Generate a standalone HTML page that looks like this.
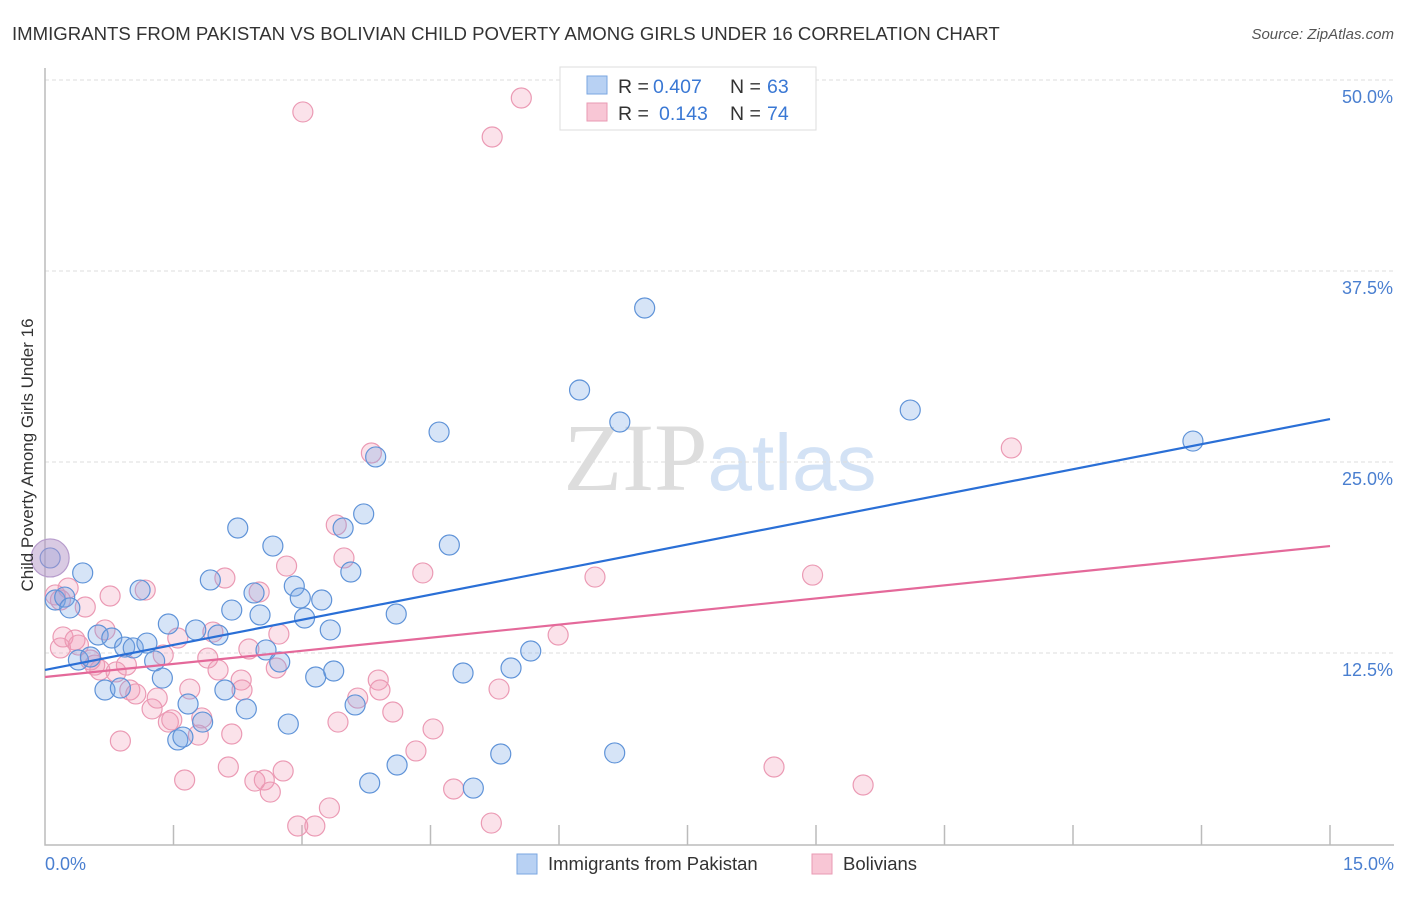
<!DOCTYPE html>
<html><head><meta charset="utf-8"><style>
body{margin:0;background:#fff;font-family:"Liberation Sans",sans-serif;}
svg text{font-family:"Liberation Sans",sans-serif;}
</style></head><body>
<svg id="chart" width="1406" height="892" xmlns="http://www.w3.org/2000/svg">
<text x="12" y="40" font-size="18.6" fill="#333">IMMIGRANTS FROM PAKISTAN VS BOLIVIAN CHILD POVERTY AMONG GIRLS UNDER 16 CORRELATION CHART</text>
<text x="1394" y="39" font-size="15" fill="#555" text-anchor="end" font-style="italic">Source: ZipAtlas.com</text>
<text x="720" y="490" font-size="96" text-anchor="middle"><tspan fill="#ddd" font-family="Liberation Serif">ZIP</tspan><tspan fill="#d3e2f5" font-size="80">atlas</tspan></text>
<g id="grid"></g>
<g id="axes"></g>
<g id="pts"></g>
<g id="lines"></g>
<text transform="translate(33,455) rotate(-90)" font-size="17" fill="#333" text-anchor="middle">Child Poverty Among Girls Under 16</text>
<text x="45" y="870" font-size="18" fill="#4a7fd0">0.0%</text>
<text x="1394" y="870" font-size="18" fill="#4a7fd0" text-anchor="end">15.0%</text>
<g>
<rect x="560" y="67" width="256" height="63" fill="#fff" stroke="#ddd"/>
<rect x="587" y="76" width="20" height="18" fill="#b8d1f3" stroke="#7aa6e0"/>
<rect x="587" y="103" width="20" height="18" fill="#f8c6d5" stroke="#e99ab3"/>
<text x="618" y="93" font-size="19.5" fill="#333">R =</text>
<text x="653" y="93" font-size="19.5" fill="#3a78d4">0.407</text>
<text x="730" y="93" font-size="19.5" fill="#333">N =</text>
<text x="767" y="93" font-size="19.5" fill="#3a78d4">63</text>
<text x="618" y="120" font-size="19.5" fill="#333">R =</text>
<text x="659" y="120" font-size="19.5" fill="#3a78d4">0.143</text>
<text x="730" y="120" font-size="19.5" fill="#333">N =</text>
<text x="767" y="120" font-size="19.5" fill="#3a78d4">74</text>
</g>
<g>
<rect x="517" y="854" width="20" height="20" fill="#b8d1f3" stroke="#7aa6e0"/>
<text x="548" y="870" font-size="18.5" fill="#333">Immigrants from Pakistan</text>
<rect x="812" y="854" width="20" height="20" fill="#f8c6d5" stroke="#e99ab3"/>
<text x="843" y="870" font-size="18.5" fill="#333">Bolivians</text>
</g>
</svg>
<script>
const yTicks=[12.5,25,37.5,50];
const yTickLabels=["12.5%","25.0%","37.5%","50.0%"];
const xTicks=[0,1.5,3,4.5,6,7.5,9,10.5,12,13.5,15];
const blueX=[.06,.12,.23,.29,.44,.39,.53,.62,.70,.78,.88,.93,1.03,1.11,1.19,1.28,1.37,1.44,1.55,1.61,1.67,1.76,1.84,1.93,2.02,2.10,2.18,2.25,2.35,2.44,2.51,2.58,2.66,2.74,2.84,2.91,2.98,3.03,3.16,3.23,3.33,3.37,3.48,3.57,3.62,3.72,3.79,3.86,4.10,4.11,4.60,4.72,4.88,5.00,5.32,5.44,5.67,6.24,6.65,6.71,7.00,10.10,13.40];
const blueY=[18.72,15.97,16.16,15.45,17.74,12.04,12.24,13.68,10.08,13.48,10.21,12.89,12.83,16.62,13.15,11.98,10.86,14.40,6.81,7.00,9.16,14.01,7.98,17.28,13.68,10.08,15.31,20.68,8.84,16.43,14.99,12.70,19.50,11.91,7.85,16.88,16.10,14.79,10.93,15.97,14.01,11.32,20.68,17.80,9.10,21.60,3.99,25.33,15.05,5.17,26.96,19.57,11.19,3.66,5.89,11.52,12.63,29.71,5.96,27.62,35.08,28.40,26.37];
const pinkX=[.12,.18,.27,.18,.21,.35,.39,.47,.53,.58,.64,.70,.76,.83,.88,.95,.99,1.06,1.17,1.25,1.31,1.38,1.44,1.48,1.55,1.63,1.69,1.79,1.83,1.90,1.96,2.02,2.10,2.14,2.18,2.29,2.30,2.38,2.45,2.50,2.56,2.63,2.70,2.73,2.78,2.82,2.95,3.01,3.15,3.32,3.40,3.42,3.49,3.65,3.81,3.89,3.91,4.06,4.33,4.41,4.53,4.77,5.21,5.22,5.30,5.56,5.99,6.42,8.51,8.96,9.55,11.28];
const pinkY=[16.30,15.97,16.75,12.83,13.55,13.35,13.02,15.51,12.04,11.71,11.39,14.01,16.23,11.26,6.74,11.71,10.08,9.82,16.62,8.84,9.55,12.37,7.98,8.12,13.48,4.19,10.14,7.13,8.25,12.17,13.87,11.39,17.41,5.04,7.20,10.73,10.08,12.76,4.12,16.49,4.19,3.40,11.52,13.74,4.78,18.19,1.18,47.91,1.18,2.36,20.88,7.98,18.72,9.55,25.59,10.73,10.08,8.64,6.09,17.74,7.53,3.60,1.37,46.27,10.14,48.82,13.68,17.47,5.04,17.60,3.86,25.92];
const bigPoint=[0.06,18.72];
const blueLine=[11.39,27.81];
const pinkLine=[10.93,19.50];
const NS="http://www.w3.org/2000/svg";
const X=v=>45+v*(1285/15);
const Y=v=>844-v*15.28;
function mk(p,t,a){const e=document.createElementNS(NS,t);for(const k in a)e.setAttribute(k,a[k]);document.getElementById(p).appendChild(e);return e;}
yTicks.forEach((t,i)=>{
 const l=mk('grid','line',{x1:45,x2:1394,y1:Y(t),y2:Y(t),stroke:'#ddd','stroke-dasharray':'4 3'});
 
 
 const tx=mk('grid','text',{x:1393,y:Y(t)+23,'font-size':18,fill:'#4a7fd0','text-anchor':'end'});
 tx.textContent=yTickLabels[i];
 
 
});
const ax=mk('axes','path',{d:'M45,68 V845 H1394',fill:'none',stroke:'#bbb','stroke-width':1.5});


xTicks.slice(1).forEach(t=>{
 const l=mk('axes','line',{x1:X(t),x2:X(t),y1:825,y2:845,stroke:'#bbb','stroke-width':1.5});
 
 
});
function pts(xs,ys,fill,stroke,name){xs.forEach((x,i)=>{
 const c=mk('pts','circle',{cx:X(x),cy:Y(ys[i]),r:10,fill:fill,stroke:stroke,'stroke-width':1.2});
 
 
});}
pts(pinkX,pinkY,'rgba(242,150,180,0.28)','#eb9ab4','bolivians-point');
pts(blueX,blueY,'rgba(120,165,230,0.3)','#5f93d8','pakistan-point');
const bp=mk('pts','circle',{cx:X(bigPoint[0]),cy:Y(bigPoint[1]),r:19,fill:'rgba(180,150,200,0.5)',stroke:'#b79ccc','stroke-width':1.2});


const bl=mk('lines','line',{x1:X(0),y1:Y(blueLine[0]),x2:X(15),y2:Y(blueLine[1]),stroke:'#2a6fd6','stroke-width':2.2});


const pl=mk('lines','line',{x1:X(0),y1:Y(pinkLine[0]),x2:X(15),y2:Y(pinkLine[1]),stroke:'#e4699a','stroke-width':2.2});


</script>
</body></html>
